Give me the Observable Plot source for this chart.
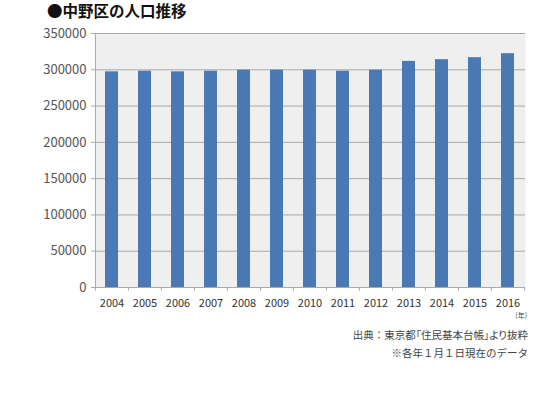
<!DOCTYPE html>
<html>
<head>
<meta charset="utf-8">
<script src="https://cdn.jsdelivr.net/npm/d3@7"></script>
<script src="https://cdn.jsdelivr.net/npm/@observablehq/plot@0.6"></script>
<style>
  body { margin: 0; background: #fff; font-family: "Noto Sans CJK JP", sans-serif; }
  #wrap { position: relative; width: 550px; height: 409px; }
  #title { position: absolute; left: 47px; top: 1px; font-size: 15.5px; line-height: 18px; font-weight: bold; color: #111; }
  #chart { position: absolute; left: 0; top: 22px; }
  #unit { position: absolute; right: 23px; top: 310px; font-size: 7px; color: #444; }
  .note { position: absolute; right: 22px; font-size: 10.5px; line-height: 14px; color: #444; }
  #n1 { top: 328px; }
  #n1 .p { font-feature-settings: "palt"; }
  #n2 { top: 346px; }
</style>
</head>
<body>
<div id="wrap">
  <div id="title">●中野区の人口推移</div>
  <div id="chart"></div>
  <div id="unit">(年)</div>
  <div class="note" id="n1">出典：<span class="p">東京都「住民基本台帳」より抜粋</span></div>
  <div class="note" id="n2">※各年１月１日現在のデータ</div>
</div>
<script>
// 年ごとの人口（1月1日現在）
const years = ["2004", "2005", "2006", "2007", "2008", "2009", "2010", "2011", "2012", "2013", "2014", "2015", "2016"]
const population = [297200, 298100, 297200, 298100, 299500, 299500, 299500, 298100, 299500, 311600, 313900, 316700, 322200]
const yTicks = [0, 50000, 100000, 150000, 200000, 250000, 300000, 350000]

const data = years.map((year, i) => ({year, population: population[i]}))

const step = 430 / years.length
const grey = "#a9a9a9"

let chart = Plot.plot({
  width: 550,
  height: 295,
  marginTop: 11,
  marginBottom: 30,
  marginLeft: 95,
  marginRight: 25,
  style: {fontFamily: "'Noto Sans CJK JP', sans-serif", background: "transparent", overflow: "visible"},
  x: {domain: years, paddingInner: 0.6, paddingOuter: 0.3, label: null},
  y: {domain: [0, 350000], label: null},
  marks: [
    Plot.frame({fill: "#efefef", stroke: null}),
    Plot.gridY(yTicks, {stroke: grey, strokeOpacity: 1}),
    // left edge of the plot area
    Plot.ruleX([years[0]], {dx: -step / 2, stroke: grey}),
    Plot.barY(data, {x: "year", y: "population", fill: "#4a79b4"}),
    Plot.axisY(yTicks, {tickSize: 4, tickPadding: 5, tickFormat: d => String(d), fontSize: 13, fill: "#555", stroke: grey}),
    Plot.axisX({tickSize: 0, tickPadding: 12, fontSize: 11, fill: "#333"}),
    // ticks between the categories
    Plot.ruleX(years, {x: d => d, dx: -step / 2, y1: 0, y2: -5000, stroke: grey}),
    Plot.ruleX([years[years.length - 1]], {dx: step / 2, y1: 0, y2: -5000, stroke: grey}),
  ],
})

d3.select('#chart').append(() => chart)
</script>
</body>
</html>
